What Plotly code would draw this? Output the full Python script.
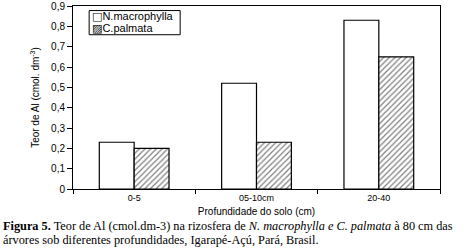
import plotly.graph_objects as go

categories = ["0-5", "05-10cm", "20-40"]
n_macrophylla = [0.23, 0.52, 0.83]
c_palmata = [0.20, 0.23, 0.65]
y_tick_vals = [0, 0.1, 0.2, 0.3, 0.4, 0.5, 0.6, 0.7, 0.8, 0.9]
y_tick_text = ["0", "0,1", "0,2", "0,3", "0,4", "0,5", "0,6", "0,7", "0,8", "0,9"]
series_names = ["N.macrophylla", "C.palmata"]

fig = go.Figure()
fig.add_trace(go.Bar(
    x=categories, y=n_macrophylla, name=series_names[0],
    marker=dict(color="white", line=dict(color="black", width=1.2)),
))
fig.add_trace(go.Bar(
    x=categories, y=c_palmata, name=series_names[1],
    marker=dict(color="white", line=dict(color="black", width=1.2),
                pattern=dict(shape="/", fgcolor="black", bgcolor="white", size=4, solidity=0.3)),
))

fig.update_layout(
    width=474, height=250,
    margin=dict(l=73, r=34, t=6, b=61),
    paper_bgcolor="white", plot_bgcolor="white",
    barmode="group", bargap=0.43, bargroupgap=0,
    font=dict(family="Liberation Sans, Arial", size=10, color="black"),
    showlegend=False,
    xaxis=dict(showline=True, linecolor="black", linewidth=1, mirror=True, automargin=False,
               ticks="outside", tickson="boundaries", ticklen=4, tickcolor="black",
               tickfont=dict(size=9),
               title=dict(text="Profundidade do solo (cm)", font=dict(size=10), standoff=6)),
    yaxis=dict(range=[0, 0.9], showline=True, linecolor="black", linewidth=1, mirror=True,
               automargin=False,
               ticks="outside", ticklen=5, tickcolor="black", showgrid=False, zeroline=False,
               tickvals=y_tick_vals, ticktext=y_tick_text, tickfont=dict(size=10),
               title=dict(text="Teor de Al (cmol. dm<sup>-3</sup>)", font=dict(size=10), standoff=9)),
)

# legend box
fig.add_shape(type="rect", xref="paper", yref="paper", x0=0.044, x1=0.292, y0=0.843, y1=0.975,
              line=dict(color="black", width=1), fillcolor="white", layer="above")
fig.add_annotation(
    xref="paper", yref="paper", x=0.047, y=0.945, xanchor="left", yanchor="middle",
    align="left", showarrow=False,
    font=dict(family="Liberation Sans, Arial", size=11, color="black"),
    text=f"<span style='font-family:DejaVu Sans'>□</span>{series_names[0]}",
)
fig.add_annotation(
    xref="paper", yref="paper", x=0.047, y=0.875, xanchor="left", yanchor="middle",
    align="left", showarrow=False,
    font=dict(family="Liberation Sans, Arial", size=11, color="black"),
    text=f"<span style='font-family:DejaVu Sans'>▨</span>{series_names[1]}",
)

cap_font = dict(family="Liberation Serif, Times New Roman", size=12.3, color="black")
fig.add_annotation(
    xref="paper", yref="paper", x=-0.196, y=-0.203, xanchor="left", yanchor="middle",
    align="left", showarrow=False, font=cap_font,
    text="<b>Figura 5.</b> Teor de Al (cmol.dm-3) na rizosfera de <i>N. macrophylla e C. palmata</i> à 80 cm das",
)
fig.add_annotation(
    xref="paper", yref="paper", x=-0.196, y=-0.276, xanchor="left", yanchor="middle",
    align="left", showarrow=False, font=cap_font,
    text="árvores sob diferentes profundidades, Igarapé-Açú, Pará, Brasil.",
)

fig.write_html("out.html", config={"displayModeBar": False},
               post_script="document.body.style.margin='0';")
